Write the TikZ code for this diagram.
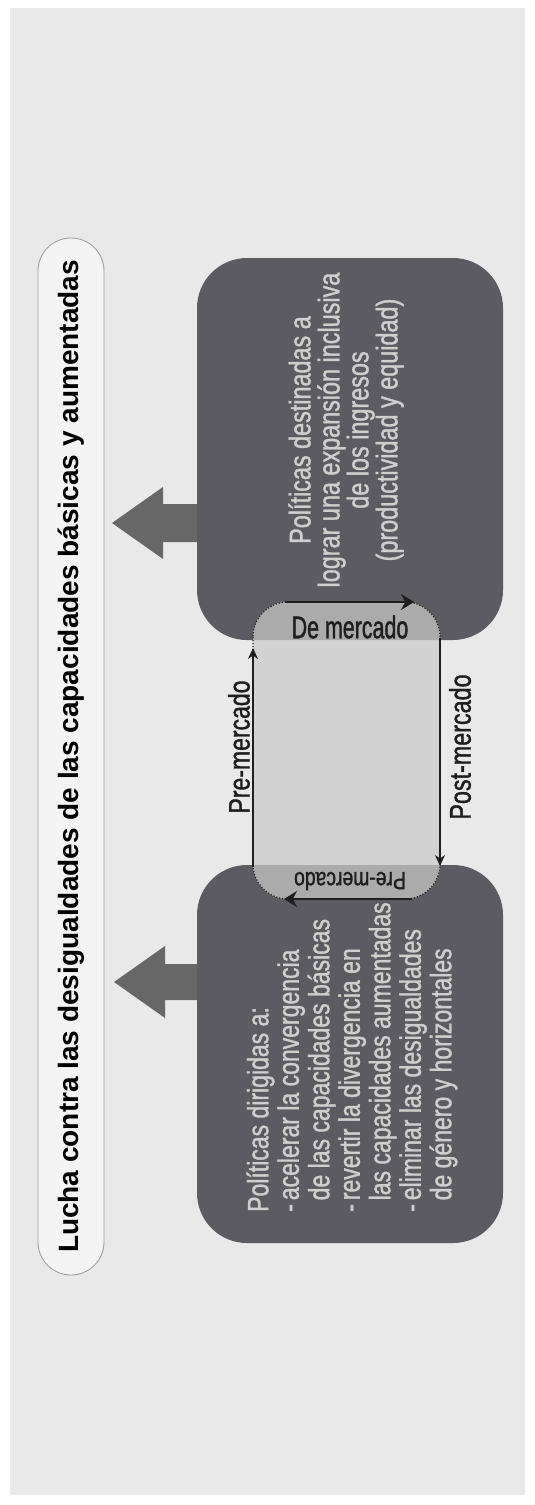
\documentclass[tikz,border=0pt]{standalone}
\usepackage{fontspec}
\setmainfont{Liberation Sans}
\newfontfamily\narrow{Liberation Sans}[FakeStretch=0.78, FakeBold=1.2]
\newfontfamily\narrowx{Liberation Sans}[FakeStretch=0.68, FakeBold=1.2]
\usetikzlibrary{arrows.meta}
\definecolor{bgc}{HTML}{E9E9E9}
\definecolor{pillc}{HTML}{F4F4F4}
\definecolor{pillb}{HTML}{A0A0A0}
\definecolor{darkc}{HTML}{5C5B61}
\definecolor{midc}{HTML}{D3D3D3}
\definecolor{overc}{HTML}{ABABAB}
\definecolor{bigc}{HTML}{676767}
\definecolor{boxtxt}{HTML}{CFCFCF}
\definecolor{inkc}{HTML}{1E1E1E}
\tikzset{
  darkbox/.style={fill=darkc, draw=none, rounded corners=50pt, inner sep=0pt},
  bigarrow/.style={fill=bigc, draw=none},
  thickarr/.style={draw=inkc, line width=2.6pt, -{Stealth[length=13pt,width=16pt]}},
  thinarr/.style={draw=inkc, line width=1.3pt, -{Stealth[length=11pt,width=10pt]}},
  lbl/.style={text=inkc, inner sep=0pt},
  boxtext/.style={text=boxtxt, inner sep=0pt, rotate=90}
}
\begin{document}
\begin{tikzpicture}[x=1pt,y=-1pt]
\useasboundingbox (0,0) rectangle (535,1505);
\fill[white] (0,0) rectangle (535,1505);
\fill[bgc] (10,8) rectangle (525,1495);

% title pill
\node[draw=pillb, fill=pillc, line width=0.9pt, rounded corners=33pt,
      minimum width=1037pt, minimum height=66pt, rotate=90, inner sep=0pt,
      font=\fontsize{28}{30}\selectfont\bfseries, text=black] (title) at (71,756.5)
  {Lucha contra las desigualdades de las capacidades básicas y aumentadas};

% big arrows
\path[bigarrow] (200,504) -- (163,504) -- (163,487) -- (112,523) -- (163,559) -- (163,542) -- (200,542) -- cycle;
\path[bigarrow] (200,964) -- (165,964) -- (165,946) -- (114,982) -- (165,1018) -- (165,1000) -- (200,1000) -- cycle;

% dark boxes
\node[darkbox, minimum width=306pt, minimum height=382pt] (boxT) at (350,449) {};
\node[darkbox, minimum width=306pt, minimum height=378pt] (boxB) at (350,1054) {};

% middle light shape
\node[fill=midc, draw=none, rounded corners=35pt, minimum width=187pt, minimum height=297pt, inner sep=0pt] (mid) at (346.5,750.5) {};
\begin{scope}
  \clip (197,258) rectangle (503,640) (197,865) rectangle (503,1243);
  \fill[overc, rounded corners=35pt] (253,602) rectangle (440,899);
\end{scope}
\draw[inkc, line width=1.1pt, dash pattern=on 1.2pt off 1.8pt, rounded corners=35pt] (253,602) rectangle (440,899);

% arrow end points
\coordinate (dmA) at (285,602);
\coordinate (dmB) at (414,602);
\coordinate (pmA) at (412,899);
\coordinate (pmB) at (284,899);
\coordinate (plA) at (253,867);
\coordinate (plB) at (253,648);
\coordinate (poA) at (440,638);
\coordinate (poB) at (440,866);

\draw[thickarr] (dmA) -- (dmB);
\draw[thickarr] (pmA) -- (pmB);
\draw[thinarr] (plA) -- (plB);
\draw[thinarr] (poA) -- (poB);

% labels
\node[lbl, font=\narrowx\fontsize{31.5}{32}\selectfont] (lDM) at (350,627) {De mercado};
\node[lbl, font=\narrow\fontsize{24.8}{28}\selectfont, rotate=180] (lPMb) at (350,881) {Pre-mercado};
\node[lbl, font=\narrow\fontsize{29.5}{30}\selectfont, rotate=90] (lPMl) at (239,747) {Pre-mercado};
\node[lbl, font=\narrow\fontsize{29.9}{30}\selectfont, rotate=90] (lPO) at (460,747) {Post-mercado};

% box texts
\node[boxtext, align=center, font=\narrow\fontsize{30}{29}\selectfont] (tT) at (346,430)
  {Políticas destinadas a\\lograr una expansión inclusiva\\de los ingresos\\(productividad y equidad)};
\node[boxtext, align=left, anchor=west, font=\narrow\fontsize{29.5}{30.5}\selectfont] (tB) at (352,1212)
  {Políticas dirigidas a:\\-\hspace{4pt}acelerar la convergencia\\\hspace*{11.5pt}de las capacidades básicas\\-\hspace{4pt}revertir la divergencia en\\\hspace*{11.5pt}las capacidades aumentadas\\-\hspace{4pt}eliminar las desigualdades\\\hspace*{11.5pt}de género y horizontales};
\end{tikzpicture}
\end{document}
